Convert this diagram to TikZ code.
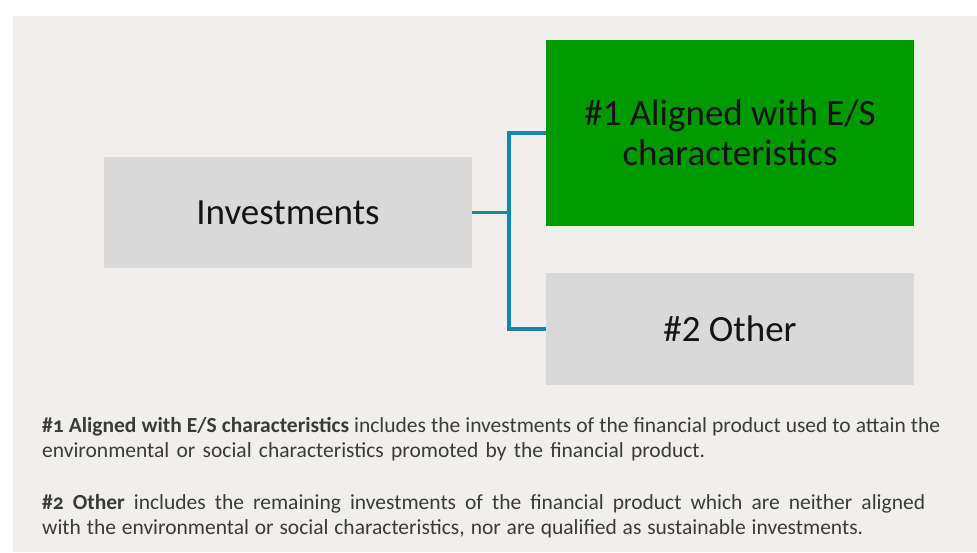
\documentclass[tikz,border=0pt]{standalone}
\usepackage{fontspec}
\setmainfont{Carlito}
\usetikzlibrary{positioning}
\definecolor{panel}{RGB}{240,239,235}
\definecolor{boxgrey}{RGB}{217,217,217}
\definecolor{esgreen}{RGB}{0,153,0}
\definecolor{linkteal}{RGB}{24,134,168}
\definecolor{bodytext}{RGB}{58,58,58}
\newcommand{\notesline}[2]{\makebox[#1][s]{\spaceskip=0.22em plus 1fil minus 0.2em\relax #2}}
\newcommand{\noteslabel}[1]{\textbf{\addfontfeature{Numbers=OldStyle}#1}}

\begin{document}
\begin{tikzpicture}[x=1pt,y=-1pt,
  box/.style={fill=boxgrey,minimum width=368pt,inner sep=0pt,align=center,
    font=\fontsize{37}{40}\selectfont,text=black!92},
  link/.style={draw=linkteal,line width=3.2pt}]
\useasboundingbox (0,0) rectangle (977,552);
\fill[panel] (13,16) rectangle (977,552);
% boxes
\node[box,minimum height=111pt] (invest) at (288,212.5) {Investments};
\node[box,fill=esgreen,minimum height=186pt] (aligned) at (730,133) {\#1 Aligned with E/S\\characteristics};
\node[box,minimum height=112pt] (other) at (730,329) {\#2 Other};
% connectors
\coordinate (fork) at (509,212.5);
\draw[link] (invest.east) -- (fork);
\draw[link] (aligned.west) -| (fork) |- (other.west);
% notes
\node[anchor=north west,text width=898pt,align=left,inner sep=0pt,
  font=\fontsize{21.5}{25}\selectfont,text=bodytext] (notes) at (42,417)
  {\notesline{898pt}{\noteslabel{\#1 Aligned with E/S characteristics} includes the investments of the financial product used to attain the}\\
   \notesline{663pt}{environmental or social characteristics promoted by the financial product.}\\[27pt]
   \notesline{883pt}{\noteslabel{\#2 Other} includes the remaining investments of the financial product which are neither aligned}\\
   \notesline{821pt}{with the environmental or social characteristics, nor are qualified as sustainable investments.}};
\end{tikzpicture}
\end{document}
